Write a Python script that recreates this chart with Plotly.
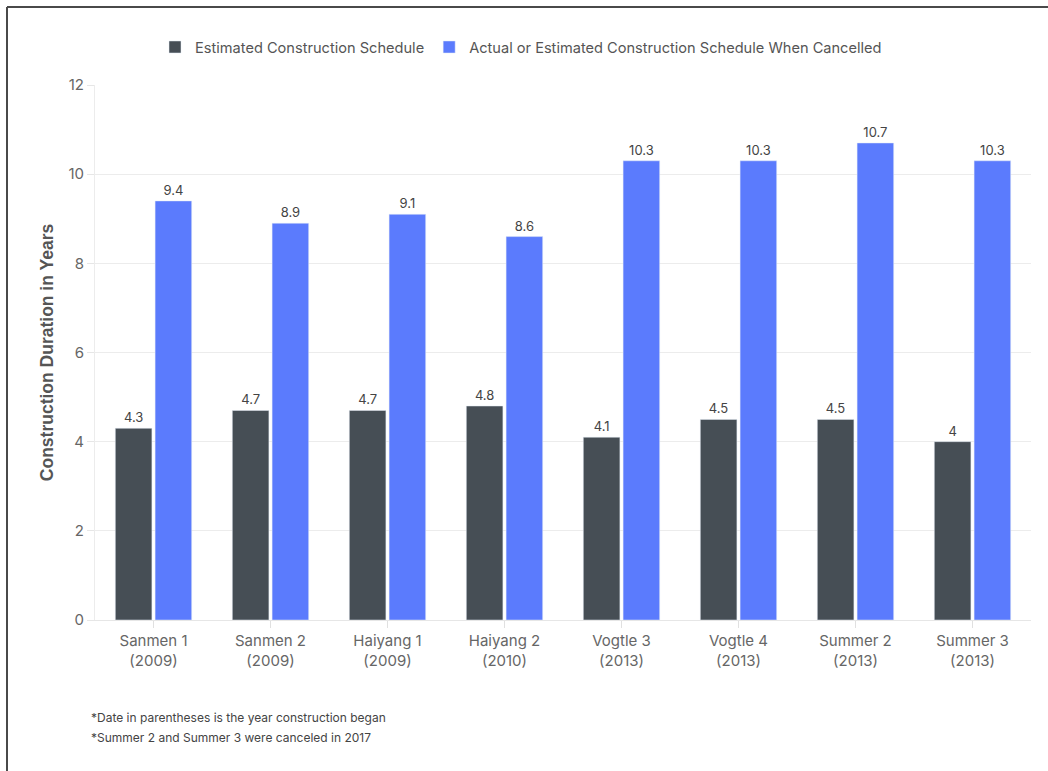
import plotly.graph_objects as go

categories = ["Sanmen 1<br>(2009)", "Sanmen 2<br>(2009)", "Haiyang 1<br>(2009)", "Haiyang 2<br>(2010)",
              "Vogtle 3<br>(2013)", "Vogtle 4<br>(2013)", "Summer 2<br>(2013)", "Summer 3<br>(2013)"]
estimated = [4.3, 4.7, 4.7, 4.8, 4.1, 4.5, 4.5, 4]
actual = [9.4, 8.9, 9.1, 8.6, 10.3, 10.3, 10.7, 10.3]
y_ticks = [0, 2, 4, 6, 8, 10, 12]

W, H = 1048, 771
L, R, T, B = 95, 17, 85, 151
pw, ph = W - L - R, H - T - B

def px(x):
    return (x - L) / pw

def py(y):
    return (H - B - y) / ph

FONT = "Inter, Roboto, sans-serif"

fig = go.Figure()
fig.add_trace(go.Bar(x=categories, y=estimated, name="Estimated Construction Schedule",
                     marker=dict(color="#464e55"), text=[str(v) for v in estimated],
                     textposition="outside", cliponaxis=False,
                     textfont=dict(size=13, color="#444", family=FONT)))
fig.add_trace(go.Bar(x=categories, y=actual, name="Actual or Estimated Construction Schedule When Cancelled",
                     marker=dict(color="#5b7bfd"), text=[str(v) for v in actual],
                     textposition="outside", cliponaxis=False,
                     textfont=dict(size=13, color="#444", family=FONT)))

fig.update_layout(
    width=W, height=H,
    margin=dict(l=L, r=R, t=T, b=B),
    paper_bgcolor="white", plot_bgcolor="white",
    barmode="group", bargap=0.32, bargroupgap=0.08,
    font=dict(family=FONT, color="#555"),
    legend=dict(orientation="h", x=px(521), xanchor="center", y=py(47), yanchor="middle",
                font=dict(size=14.6, color="#555", family=FONT), itemwidth=30, traceorder="normal"),
    xaxis=dict(showgrid=False, showline=True, linecolor="#e6e6e6", ticks="outside", ticklen=7,
               tickcolor="#e0e0e0", tickfont=dict(size=15, color="#666", family=FONT)),
    yaxis=dict(range=[0, 12], tickvals=y_ticks, showgrid=True, gridcolor="#ececec", zeroline=False,
               showline=True, linecolor="#ececec", ticks="outside", ticklen=7, tickcolor="#e6e6e6",
               tickfont=dict(size=15, color="#666", family=FONT),
               title=dict(text="<b>Construction Duration in Years</b>", standoff=10,
                          font=dict(size=17.5, color="#555", family="Liberation Sans, Arial, sans-serif"))),
)

# frame lines
fig.add_shape(type="line", xref="paper", yref="paper", x0=px(7), x1=px(W), y0=py(7), y1=py(7),
              line=dict(color="#4a4a4a", width=2))
fig.add_shape(type="line", xref="paper", yref="paper", x0=px(7), x1=px(7), y0=py(7), y1=py(H),
              line=dict(color="#4a4a4a", width=2))

fig.add_annotation(text="*Date in parentheses is the year construction began", xref="paper", yref="paper",
                   x=px(89), y=py(717), xanchor="left", yanchor="middle", showarrow=False,
                   font=dict(size=12, color="#444", family=FONT))
fig.add_annotation(text="*Summer 2 and Summer 3 were canceled in 2017", xref="paper", yref="paper",
                   x=px(89), y=py(737), xanchor="left", yanchor="middle", showarrow=False,
                   font=dict(size=12, color="#444", family=FONT))

fig.write_html("out.html")
